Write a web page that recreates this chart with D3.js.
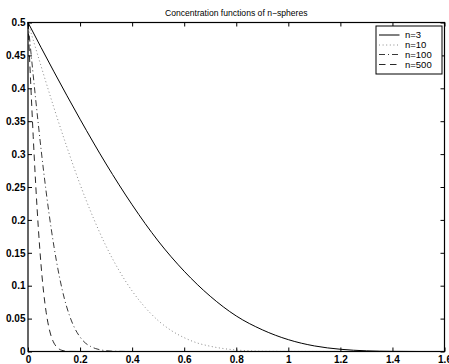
<!DOCTYPE html>
<html>
<head>
<meta charset="utf-8">
<script src="https://cdn.jsdelivr.net/npm/d3@7/dist/d3.min.js"></script>
<style>
  html, body { margin: 0; padding: 0; background: #fff; }
  svg { display: block; }
  text { font-family: "Liberation Sans", Arial, Helvetica, sans-serif; }
</style>
</head>
<body>
<script>
// Concentration function values alpha(eps) for spheres of several dimensions
const seriesNames = ["n=3", "n=10", "n=100", "n=500"];

const epsN3 = [0, 0.1, 0.2, 0.3, 0.4, 0.5, 0.6, 0.7, 0.8, 0.9, 1.0, 1.1, 1.2, 1.3, 1.4, 1.5, 1.6];
const valN3 = [0.5, 0.425, 0.353, 0.285, 0.223, 0.168, 0.122, 0.084, 0.054, 0.033, 0.018, 0.0085, 0.0034, 0.001, 0.0002, 0, 0];

const epsN10 = [0, 0.05, 0.1, 0.15, 0.2, 0.25, 0.3, 0.35, 0.4, 0.45, 0.5, 0.55, 0.6, 0.65, 0.7, 0.75, 0.8, 0.85, 0.9, 1.0, 1.6];
const valN10 = [0.5, 0.434, 0.370, 0.310, 0.254, 0.204, 0.160, 0.123, 0.092, 0.067, 0.047, 0.032, 0.021, 0.013, 0.008, 0.0045, 0.0023, 0.001, 0.0004, 0.0001, 0];

const epsN100 = [0, 0.02, 0.04, 0.06, 0.08, 0.1, 0.12, 0.14, 0.16, 0.18, 0.2, 0.22, 0.24, 0.26, 0.28, 0.3, 0.32, 0.35, 0.4, 1.6];
const valN100 = [0.5, 0.42, 0.344, 0.274, 0.212, 0.159, 0.115, 0.080, 0.054, 0.035, 0.022, 0.013, 0.0078, 0.0044, 0.0024, 0.0012, 0.0006, 0.0002, 0, 0];

const epsN500 = [0, 0.01, 0.02, 0.03, 0.04, 0.05, 0.06, 0.07, 0.08, 0.09, 0.1, 0.11, 0.12, 0.13, 0.14, 0.16, 0.2, 1.6];
const valN500 = [0.5, 0.411, 0.327, 0.251, 0.186, 0.132, 0.090, 0.059, 0.037, 0.022, 0.0127, 0.0069, 0.0036, 0.0018, 0.0008, 0.0001, 0, 0];

const xTicks = [0, 0.2, 0.4, 0.6, 0.8, 1, 1.2, 1.4, 1.6];
const xTickLabels = ["0", "0.2", "0.4", "0.6", "0.8", "1", "1.2", "1.4", "1.6"];
const yTicks = [0, 0.05, 0.1, 0.15, 0.2, 0.25, 0.3, 0.35, 0.4, 0.45, 0.5];
const yTickLabels = ["0", "0.05", "0.1", "0.15", "0.2", "0.25", "0.3", "0.35", "0.4", "0.45", "0.5"];

const titleText = "Concentration functions of n\u2212spheres";

const W = 449, H = 364;
const plot = { left: 28, right: 444.5, top: 22.5, bottom: 351.5 };

const x = d3.scaleLinear().domain([0, 1.6]).range([plot.left, plot.right]);
const y = d3.scaleLinear().domain([0, 0.5]).range([plot.bottom, plot.top]);

const svg = d3.select("body").append("svg").attr("width", W).attr("height", H);

const styles = [
  { stroke: "#000", width: 1, dash: null },
  { stroke: "#8a8a8a", width: 1, dash: "1,2.6" },
  { stroke: "#222", width: 0.9, dash: "6,3,1,3" },
  { stroke: "#111", width: 0.9, dash: "6.5,4.5" }
];

const series = [
  epsN3.map((e, i) => [e, valN3[i]]),
  epsN10.map((e, i) => [e, valN10[i]]),
  epsN100.map((e, i) => [e, valN100[i]]),
  epsN500.map((e, i) => [e, valN500[i]])
];

const line = d3.line().x(d => x(d[0])).y(d => y(d[1])).curve(d3.curveMonotoneX);

svg.append("g")
  .selectAll("path.curve").data(series).join("path")
  .attr("class", "curve")
  .attr("d", line)
  .attr("fill", "none")
  .attr("stroke", (d, i) => styles[i].stroke)
  .attr("stroke-width", (d, i) => styles[i].width)
  .attr("stroke-dasharray", (d, i) => styles[i].dash);

// Axes with inward ticks on all four sides
const tickFont = g => g.selectAll("text")
  .attr("font-family", "'Liberation Sans', Arial, sans-serif")
  .attr("font-size", 10).attr("font-weight", "bold").attr("fill", "#000");

const bottomAxis = svg.append("g").attr("transform", `translate(0,${plot.bottom})`)
  .call(d3.axisBottom(x).tickValues(xTicks).tickFormat((d, i) => xTickLabels[i])
    .tickSizeInner(-4).tickSizeOuter(0).tickPadding(4.5));
bottomAxis.call(tickFont);

const leftAxis = svg.append("g").attr("transform", `translate(${plot.left},0)`)
  .call(d3.axisLeft(y).tickValues(yTicks).tickFormat((d, i) => yTickLabels[i])
    .tickSizeInner(-4).tickSizeOuter(0).tickPadding(2.5));
leftAxis.call(tickFont);

svg.append("g").attr("transform", `translate(0,${plot.top})`)
  .call(d3.axisTop(x).tickValues(xTicks).tickFormat("").tickSizeInner(-4).tickSizeOuter(0));

svg.append("g").attr("transform", `translate(${plot.right},0)`)
  .call(d3.axisRight(y).tickValues(yTicks).tickFormat("").tickSizeInner(-4).tickSizeOuter(0));

svg.selectAll(".domain").remove();
svg.selectAll(".tick line").attr("stroke", "#000").attr("stroke-width", 1);

svg.append("rect")
  .attr("x", plot.left).attr("y", plot.top)
  .attr("width", plot.right - plot.left).attr("height", plot.bottom - plot.top)
  .attr("fill", "none").attr("stroke", "#000").attr("stroke-width", 1.2);

// Title
svg.append("text")
  .attr("x", (plot.left + plot.right) / 2).attr("y", 15.5)
  .attr("text-anchor", "middle")
  .attr("font-size", 8.6)
  .attr("fill", "#000")
  .text(titleText);

// Legend
const legend = svg.append("g");
legend.append("rect")
  .attr("x", 376).attr("y", 26).attr("width", 66).attr("height", 48)
  .attr("fill", "#fff").attr("stroke", "#000").attr("stroke-width", 1);

const rowY = [35, 45, 54.5, 64.5];
seriesNames.forEach((name, i) => {
  legend.append("line")
    .attr("x1", 379).attr("x2", 399.5).attr("y1", rowY[i]).attr("y2", rowY[i])
    .attr("stroke", styles[i].stroke).attr("stroke-width", styles[i].width)
    .attr("stroke-dasharray", styles[i].dash);
  legend.append("text")
    .attr("x", 405).attr("y", rowY[i]).attr("dy", "0.35em")
    .attr("font-size", 9.5).attr("fill", "#000")
    .text(name);
});
</script>
</body>
</html>
